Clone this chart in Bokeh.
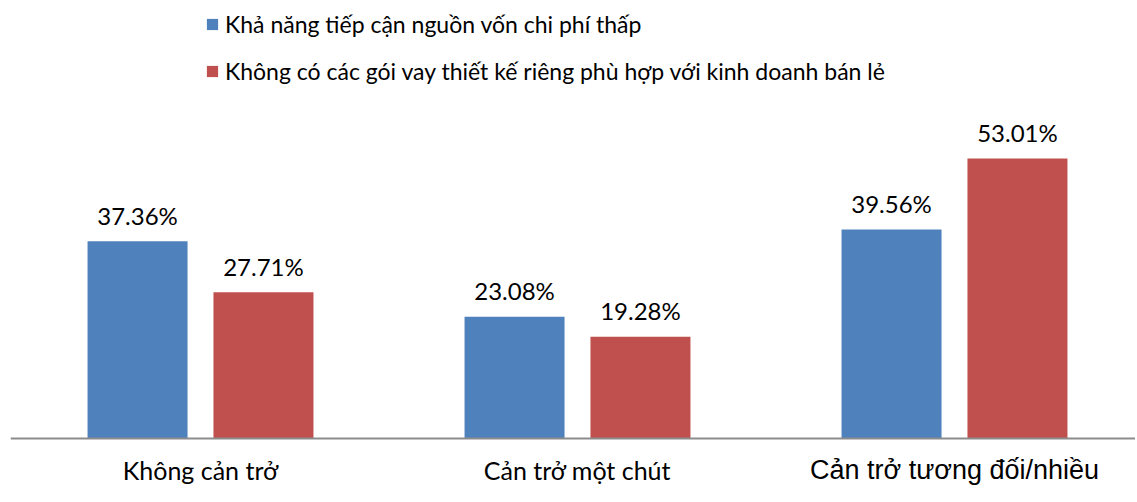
from bokeh.plotting import figure
from bokeh.models import Range1d, Span, Legend, LegendItem, ColumnDataSource
from bokeh.core.properties import value
from bokeh.embed import file_html
from bokeh.resources import INLINE

categories = ["Không cản trở", "Cản trở một chút", "Cản trở tương đối/nhiều"]
series_names = ["Khả năng tiếp cận nguồn vốn chi phí thấp",
                "Không có các gói vay thiết kế riêng phù hợp với kinh doanh bán lẻ"]
series_a = [37.36, 23.08, 39.56]
series_b = [27.71, 19.28, 53.01]
colors = ["#4F81BD", "#C0504D"]
cat_fonts = ["Lato", "Lato", "Liberation Sans"]
cat_font_sizes = ["25px", "25px", "27px"]

FONT = "Lato"

p = figure(width=1135, height=492, output_backend="svg", toolbar_location=None,
           x_range=Range1d(-0.504, -0.504 + 1125 / 377), y_range=Range1d(-10.23, 81.44),
           min_border_left=10, min_border_right=0, min_border_top=8, min_border_bottom=0)
p.xaxis.visible = False
p.yaxis.visible = False
p.grid.visible = False
p.outline_line_color = None

idx = list(range(len(categories)))
offset = 0.167
bw = 100 / 377
items = []
for s, (vals, off) in enumerate([(series_a, -offset), (series_b, offset)]):
    xs = [i + off for i in idx]
    src = ColumnDataSource(dict(x=xs, top=vals, lab=["%.2f%%" % v for v in vals]))
    r = p.vbar(x="x", top="top", bottom=0, width=bw, source=src, fill_color=colors[s], line_color=None)
    p.text(x="x", y="top", text="lab", source=src, text_align="center", text_baseline="alphabetic",
           y_offset=-26, text_font=value(FONT), text_font_size="24px", text_color="#000000")
    items.append(LegendItem(label=series_names[s], renderers=[r]))

p.add_layout(Span(location=0, dimension="width", line_color="#8C8C8C", line_width=2))

for i, c in enumerate(categories):
    p.text(x=[i], y=[0], text=[c], text_align="center", text_baseline="middle", y_offset=32,
           text_font=value(cat_fonts[i]), text_font_size=cat_font_sizes[i], text_color="#000000")

legend = Legend(items=items, location=(195, 407), orientation="vertical",
                label_text_font=FONT, label_text_font_size="23px", label_text_color="#000000",
                glyph_width=14, glyph_height=14, label_height=26, spacing=19,
                background_fill_alpha=0, border_line_color=None, padding=0, margin=0,
                label_standoff=6)
p.add_layout(legend)

open("out.html", "w").write(file_html(p, INLINE))
